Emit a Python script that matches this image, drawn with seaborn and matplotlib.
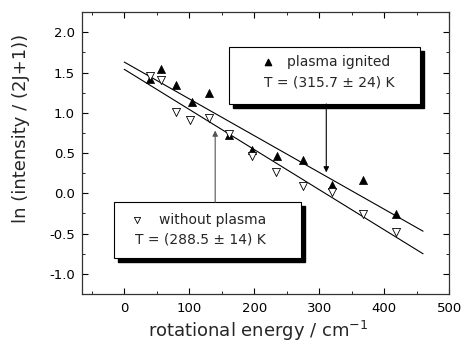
import matplotlib
matplotlib.use("Agg")
import matplotlib.pyplot as plt
from matplotlib.patches import Rectangle
import seaborn as sns
import pandas as pd

# rotational energy (cm^-1) and ln(I/(2J+1))
energy_ignited = [39, 57, 79, 104, 131, 161, 197, 235, 275, 320, 368, 419]
ln_ignited = [1.42, 1.54, 1.35, 1.13, 1.25, 0.72, 0.54, 0.46, 0.415, 0.106, 0.17, -0.26]

energy_without = [39, 57, 79, 102, 131, 162, 196, 234, 275, 320, 367, 419]
ln_without = [1.46, 1.41, 1.01, 0.905, 0.93, 0.74, 0.46, 0.27, 0.094, 0.013, -0.26, -0.48]

# Boltzmann fit lines (end points)
fit_x = [0, 460]
fit_ignited = [1.63, -0.47]
fit_without = [1.54, -0.75]

label_ignited = ["plasma ignited", "T = (315.7 ± 24) K"]
label_without = ["without plasma", "T = (288.5 ± 14) K"]

df_ign = pd.DataFrame({"E": energy_ignited, "y": ln_ignited})
df_wo = pd.DataFrame({"E": energy_without, "y": ln_without})
df_fit = pd.DataFrame({"E": fit_x * 2, "y": fit_ignited + fit_without,
                       "set": ["ign"] * 2 + ["wo"] * 2})

sns.set_style("ticks")
plt.rcParams["font.family"] = ["DejaVu Sans"]

fig = plt.figure(figsize=(4.62, 3.56), dpi=100)
ax = fig.add_axes([0.1775, 0.174, 0.7945, 0.792])

sns.lineplot(data=df_fit, x="E", y="y", units="set", estimator=None,
             color="black", lw=0.8, ax=ax, legend=False)
sns.scatterplot(data=df_ign, x="E", y="y", marker="^", color="black",
                edgecolor="black", s=34, linewidth=0.5, ax=ax, zorder=3)
sns.scatterplot(data=df_wo, x="E", y="y", marker="v", facecolor="white",
                edgecolor="black", s=34, linewidth=0.6, ax=ax, zorder=3)

ax.set_xlim(-65, 500)
ax.set_ylim(-1.23, 2.25)
ax.set_xticks([0, 100, 200, 300, 400, 500])
ax.set_xticks(range(-50, 500, 50), minor=True)
ax.set_yticks([-1.0, -0.5, 0.0, 0.5, 1.0, 1.5, 2.0])
ax.set_yticks([-1.25 + 0.25 * i for i in range(14)], minor=True)
ax.set_yticklabels(["-1.0", "-0.5", "0.0", "0.5", "1.0", "1.5", "2.0"])
ax.tick_params(which="both", direction="in", top=True, right=True,
               labelsize=9.5, colors="black")
ax.tick_params(which="major", length=4)
ax.tick_params(which="minor", length=2)
ax.tick_params(axis="x", pad=6)
ax.tick_params(axis="y", pad=5)
for sp in ax.spines.values():
    sp.set_linewidth(0.9)
    sp.set_color("#333333")

ax.set_xlabel("rotational energy / cm$^{-1}$", fontsize=13)
ax.set_ylabel("ln (intensity / (2J+1))", fontsize=13)
ax.xaxis.set_label_coords(0.48, -0.088)
ax.yaxis.set_label_coords(-0.142, 0.589)

# boxes with drop shadow
def shadow_box(x0, y0, x1, y1):
    ax.add_patch(Rectangle((x0 + 6, y0 - 0.05), x1 - x0, y1 - y0,
                           facecolor="black", edgecolor="black", zorder=4))
    ax.add_patch(Rectangle((x0, y0), x1 - x0, y1 - y0, facecolor="white",
                           edgecolor="black", lw=0.8, zorder=5))

shadow_box(161, 1.11, 456, 1.82)
ax.scatter([221], [1.63], marker="^", color="black", s=20, zorder=6)
ax.text(250, 1.63, label_ignited[0], fontsize=10, va="center", zorder=6)
ax.text(316, 1.37, label_ignited[1], fontsize=10, va="center", ha="center", zorder=6)
ax.annotate("", xy=(311, 0.26), xytext=(311, 1.11),
            arrowprops=dict(arrowstyle="-|>", color="black", lw=0.8,
                            mutation_scale=8, shrinkA=0, shrinkB=0), zorder=6)

shadow_box(-16, -0.80, 272, -0.11)
ax.scatter([20], [-0.33], marker="v", facecolor="white", edgecolor="black",
           s=20, linewidth=0.6, zorder=6)
ax.text(54, -0.33, label_without[0], fontsize=10, va="center", zorder=6)
ax.text(117, -0.57, label_without[1], fontsize=10, va="center", ha="center", zorder=6)
ax.annotate("", xy=(140, 0.78), xytext=(140, -0.11),
            arrowprops=dict(arrowstyle="-|>", color="#555555", lw=0.8,
                            mutation_scale=8, shrinkA=0, shrinkB=0), zorder=6)

fig.savefig("out.png", dpi=100)
